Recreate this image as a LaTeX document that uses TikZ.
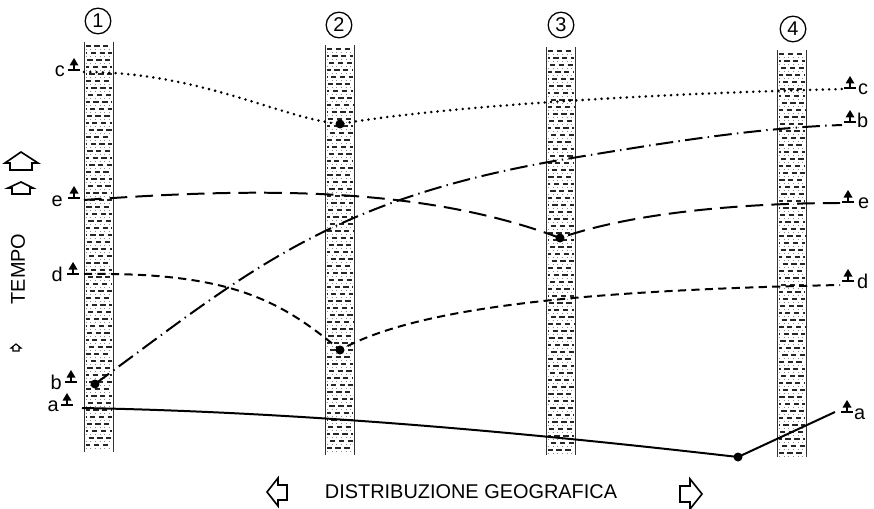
\documentclass[tikz,border=0pt]{standalone}
\usepackage{fontspec}
\setmainfont{Liberation Sans}
\usetikzlibrary{positioning,calc}

% sediment column: centre x, top y, bottom y
\newcommand{\stratacol}[3]{%
  \pgfmathtruncatemacro{\nrows}{(#3-#2-6)/7}
  \foreach \r in {0,...,\nrows}{%
    \pgfmathsetmacro{\yy}{#2+4+7*\r}
    \pgfmathsetmacro{\ph}{mod(\r*2.9,7.5)}
    \draw[stratadash, dash phase=\ph pt] (#1-13,\yy) -- (#1+13,\yy);
    \draw[stratadot] (#1-13,\yy+3.5) -- (#1+13,\yy+3.5);
  }
  \draw[stratabord] (#1-14.5,#2) -- (#1-14.5,#3) (#1+14.5,#2) -- (#1+14.5,#3);
}

\tikzset{
  horizon/.pic={
    \draw[line width=1.2pt] (-6,0) -- (6,0);
    \draw[line width=1pt] (0,0) -- (0,-5);
    \fill (-4.5,-4.5) -- (4.5,-4.5) -- (0,-12) -- cycle;
  }
}

\begin{document}
\begin{tikzpicture}[x=0.03cm, y=-0.03cm,
  font=\fontsize{17}{20}\selectfont,
  stratadash/.style={black!85, line width=0.9pt, dash pattern=on 4.5pt off 3pt},
  stratadot/.style={black!45, line width=0.7pt, dash pattern=on 0.8pt off 3.2pt},
  stratabord/.style={black!80, line width=0.8pt},
  numcirc/.style={circle, draw, line width=1.1pt, minimum size=0.77cm, inner sep=0pt},
  hdot/.style={circle, fill, inner sep=0pt, minimum size=0.27cm},
  lbl/.style={inner sep=0pt},
  hollow/.style={line width=1.4pt, line join=miter},
  dotline/.style={line width=2.4pt, dash pattern=on 0pt off 5.4pt, line cap=round},
  dashdotline/.style={line width=1.7pt, dash pattern=on 15pt off 4.5pt on 1.2pt off 4.5pt},
  longdash/.style={line width=1.7pt, dash pattern=on 15pt off 7pt},
  shortdash/.style={line width=1.7pt, dash pattern=on 7pt off 4.5pt},
  solidline/.style={line width=1.7pt}]
\useasboundingbox (0,0) rectangle (874,509);

% columns
\stratacol{98.5}{42}{452}
\stratacol{340}{45}{455}
\stratacol{561}{47}{455}
\stratacol{792}{50}{457}
\node[numcirc] (n1) at (98,21) {1};
\node[numcirc] (n2) at (339,25) {2};
\node[numcirc] (n3) at (561,25) {3};
\node[numcirc] (n4) at (793,29) {4};

% end points and dots
\coordinate (c-w) at (84,72);
\node[hdot] (c-2) at (340,124) {};
\coordinate (c-e) at (845,89);
\node[hdot] (b-1) at (95,384) {};
\coordinate (b-3) at (560,160);
\coordinate (b-e) at (842,125);
\coordinate (e-w) at (84,200);
\node[hdot] (e-3) at (560,238) {};
\coordinate (e-e) at (840,203);
\coordinate (d-w) at (84,274);
\node[hdot] (d-2) at (340,350) {};
\coordinate (d-e) at (840,285);
\coordinate (a-w) at (82,408);
\node[hdot] (a-4) at (738,457) {};
\coordinate (a-e) at (835,412);

% horizons
\draw[dotline] (c-w) .. controls (200,72) and (280,118) .. (c-2.center)
  .. controls (420,110) and (600,95) .. (c-e);
\draw[dashdotline] (b-1.center) .. controls (250,270) and (330,200) .. (b-3)
  .. controls (680,140) and (760,128) .. (b-e);
\draw[longdash] (e-w) .. controls (250,188) and (420,185) .. (e-3.center)
  .. controls (640,210) and (760,203) .. (e-e);
\draw[shortdash] (d-w) .. controls (230,272) and (280,300) .. (d-2.center)
  .. controls (420,305) and (600,290) .. (d-e);
\draw[solidline] (a-w) .. controls (300,412) and (520,432) .. (a-4.center) -- (a-e);

% markers, left
\pic at (74,70) {horizon};
\node[lbl, anchor=base east] (lc) at (65,77) {c};
\pic at (74,198) {horizon};
\node[lbl, anchor=base east] (le) at (63,206) {e};
\pic at (73,274) {horizon};
\node[lbl, anchor=base east] (ld) at (63,281) {d};
\pic at (71,382) {horizon};
\node[lbl, anchor=base east] (lb) at (62,389) {b};
\pic at (67,405) {horizon};
\node[lbl, anchor=base east] (la) at (59,411) {a};

% markers, right
\pic at (850,88) {horizon};
\node[lbl, anchor=base west] (rc) at (858,95) {c};
\pic at (850,122) {horizon};
\node[lbl, anchor=base west] (rb) at (857,128) {b};
\pic at (848,202) {horizon};
\node[lbl, anchor=base west] (re) at (858,208) {e};
\pic at (848,281) {horizon};
\node[lbl, anchor=base west] (rd) at (857,288) {d};
\pic at (847,412) {horizon};
\node[lbl, anchor=base west] (ra) at (854,419) {a};

% axis labels
\node[lbl, rotate=90] (tempo) at (18,269) {TEMPO};
\node[lbl] (geo) at (471,492) {DISTRIBUZIONE GEOGRAFICA};
\draw[hollow] (10,170) -- (10,163) -- (5,163) -- (21,152) -- (38,163)
  -- (32,163) -- (32,170) -- cycle;
\draw[hollow] (12,194) -- (12,188) -- (8,188) -- (21,182) -- (33,188)
  -- (30,188) -- (30,194) -- cycle;
\draw[hollow, line width=1pt] (13,351) -- (13,348) -- (11,348) -- (16,344)
  -- (21,348) -- (19,348) -- (19,351) -- cycle;
\draw[hollow] (680,486) -- (690,486) -- (690,479) -- (702,494) -- (690,509)
  -- (690,502) -- (680,502) -- cycle;
\draw[hollow] (287,485) -- (278,485) -- (278,478) -- (267,492) -- (278,506)
  -- (278,500) -- (287,500) -- cycle;
\end{tikzpicture}
\end{document}
